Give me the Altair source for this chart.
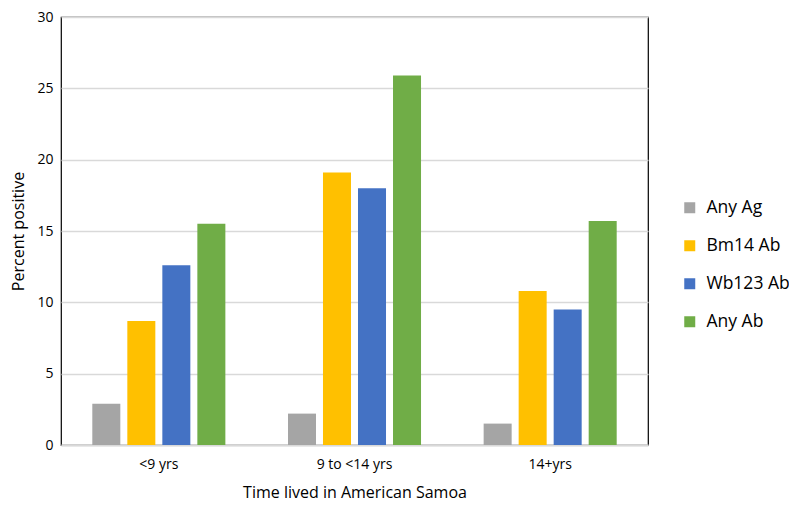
import altair as alt
import pandas as pd

categories = ["<9 yrs", "9 to <14 yrs", "14+yrs"]
series = ["Any Ag", "Bm14 Ab", "Wb123 Ab", "Any Ab"]
colors = ["#A5A5A5", "#FFC000", "#4472C4", "#70AD47"]
values = {
    "Any Ag": [2.9, 2.2, 1.5],
    "Bm14 Ab": [8.7, 19.1, 10.8],
    "Wb123 Ab": [12.6, 18.0, 9.5],
    "Any Ab": [15.5, 25.9, 15.7],
}

rows = []
for s in series:
    for c, v in zip(categories, values[s]):
        rows.append({"cat": c, "series": s, "value": v})
df = pd.DataFrame(rows)

font = "Open Sans"

chart = alt.Chart(df).mark_bar().encode(
    x=alt.X("cat:N", sort=categories,
            scale=alt.Scale(paddingInner=0.32, paddingOuter=0.16),
            axis=alt.Axis(title="Time lived in American Samoa", labelAngle=0,
                          ticks=False, domainColor="#D9D9D9", domainWidth=2,
                          labelFontSize=14, titleFontSize=16, labelPadding=12,
                          titlePadding=13, labelColor="#000", titleColor="#000",
                          titleFontWeight="normal", labelFont=font, titleFont=font)),
    xOffset=alt.XOffset("series:N", sort=series, scale=alt.Scale(paddingInner=0.2)),
    y=alt.Y("value:Q", scale=alt.Scale(domain=[0, 30]),
            axis=alt.Axis(title="Percent positive", values=[0, 5, 10, 15, 20, 25, 30],
                          ticks=False, domain=False, gridColor="#D9D9D9", gridWidth=1.5,
                          labelFontSize=14, titleFontSize=16, labelPadding=8,
                          titlePadding=10, labelColor="#000", titleColor="#000",
                          titleFontWeight="normal", labelFont=font, titleFont=font)),
    color=alt.Color("series:N", sort=series,
                    scale=alt.Scale(domain=series, range=colors),
                    legend=alt.Legend(title=None, orient="none", legendX=620, legendY=182,
                                      symbolType="square", symbolSize=121,
                                      symbolStrokeWidth=0, labelFontSize=17.5,
                                      labelFont=font, labelColor="#000",
                                      rowPadding=19, labelOffset=8)),
).properties(
    width=587, height=428,
    autosize=alt.AutoSizeParams(type="none"),
    padding={"left": 53, "top": 9, "right": 141, "bottom": 57},
).configure_view(stroke="#000", strokeWidth=1.2)

chart.save("out.html", embed_options={"renderer": "svg", "actions": False})
